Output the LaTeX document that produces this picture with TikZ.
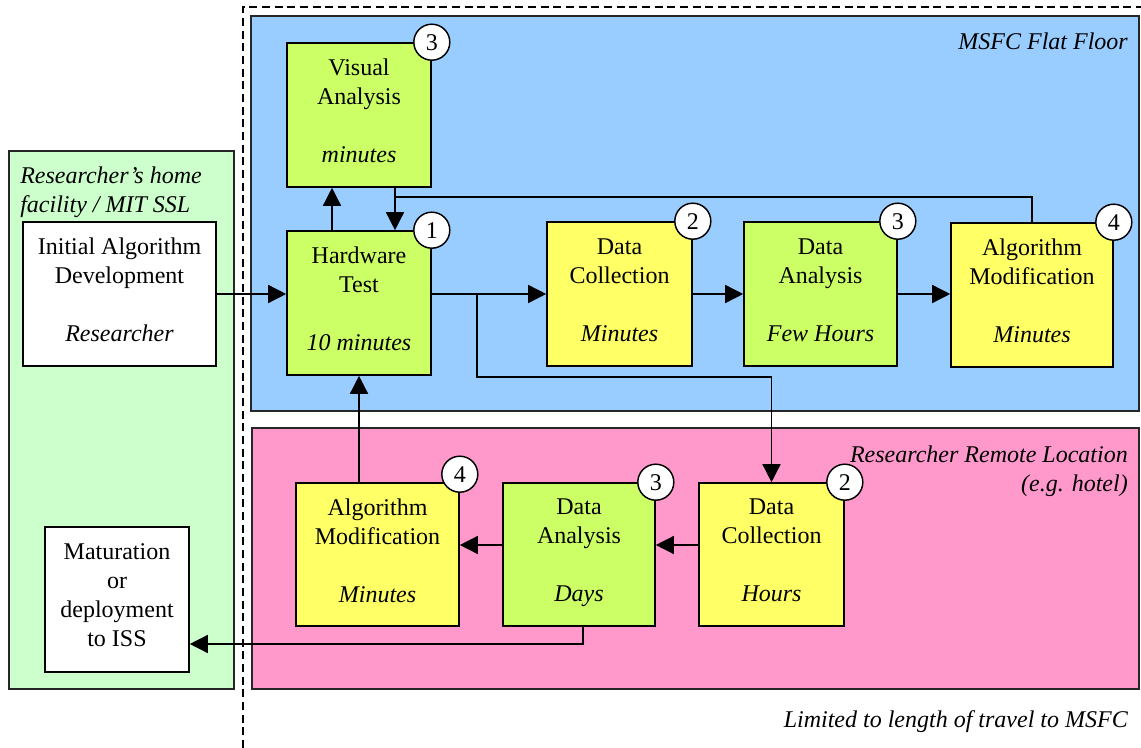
\documentclass[tikz,border=0pt]{standalone}
\usepackage{fontspec}
\setmainfont{Liberation Serif}
\usepackage{tikz}
\usetikzlibrary{arrows.meta,calc}
\definecolor{floorblue}{RGB}{153,204,255}
\definecolor{hotelpink}{RGB}{255,153,204}
\definecolor{homegreen}{RGB}{204,255,204}
\definecolor{stepgreen}{RGB}{204,255,102}
\definecolor{stepyellow}{RGB}{255,255,102}
\newcommand{\bodyfont}{\fontsize{18}{21.75}\selectfont}
\tikzset{
  region/.style={draw=black!85,line width=1.1pt},
  taskbox/.style={draw=black,line width=1.2pt,align=center,inner sep=0pt,text depth=6pt,minimum height=108pt,font=\bodyfont},
  greenbox/.style={taskbox,fill=stepgreen},
  yellowbox/.style={taskbox,fill=stepyellow},
  whitebox/.style={taskbox,fill=white},
  badge/.style={circle,draw=black,line width=1.1pt,fill=white,minimum size=27pt,inner sep=0pt,font=\bodyfont},
  zonelabel/.style={inner sep=0pt,font=\bodyfont\itshape},
  link/.style={line width=1.1pt,draw=black},
  flow/.style={link,-{Triangle[length=13.5pt,width=13.5pt]}},
  limit/.style={line width=1.2pt,dash pattern=on 6pt off 3.5pt},
}

\begin{document}
\begin{tikzpicture}[x=0.75pt,y=-0.75pt]
  \useasboundingbox (0,0) rectangle (1141,748);
  % zones
  \fill[homegreen] (9,151) rectangle (234,689);
  \draw[region] (9,151) rectangle (234,689);
  \fill[floorblue] (251,16) rectangle (1139,411);
  \draw[region] (251,16) rectangle (1139,411);
  \fill[hotelpink] (252,428) rectangle (1139,689);
  \draw[region] (252,428) rectangle (1139,689);
  \draw[limit] (243,748) -- (243,7) -- (1141,7);
  \node[zonelabel,anchor=base west,align=left] (homelbl) at (20,213)
    {Researcher’s home\\facility / MIT SSL};
  \node[zonelabel,anchor=base east] (floorlbl) at (1128,50) {MSFC Flat Floor};
  \node[zonelabel,anchor=base east,align=right] (hotellbl) at (1128,491)
    {Researcher Remote Location\\(e.g. hotel)};
  \node[zonelabel,anchor=base east] (travellbl) at (1128,727)
    {Limited to length of travel to MSFC};
  % home facility
  \node[whitebox,minimum width=144.75pt] (IAD) at (119.5,294)
    {Initial Algorithm\\Development\\[21.75pt]\textit{Researcher}};
  \node[whitebox,minimum width=108pt,minimum height=108.75pt] (Mat) at (117,599.5)
    {Maturation\\or\\deployment\\to ISS};
  % flat floor
  \node[greenbox,minimum width=108pt] (VA) at (359,115)
    {Visual\\Analysis\\[21.75pt]\textit{minutes}};
  \node[greenbox,minimum width=108pt] (HT) at (359,303)
    {Hardware\\Test\\[21.75pt]\textit{10 minutes}};
  \node[yellowbox,minimum width=108.75pt] (DCt) at (619.5,294)
    {Data\\Collection\\[21.75pt]\textit{Minutes}};
  \node[greenbox,minimum width=114.75pt] (DAt) at (820.5,294)
    {Data\\Analysis\\[21.75pt]\textit{Few Hours}};
  \node[yellowbox,minimum width=121.5pt] (AMt) at (1032,295)
    {Algorithm\\Modification\\[21.75pt]\textit{Minutes}};
  % remote location
  \node[yellowbox,minimum width=122.25pt,minimum height=107.25pt] (AMb) at (377.5,554.5)
    {Algorithm\\Modification\\[21.75pt]\textit{Minutes}};
  \node[greenbox,minimum width=114pt,minimum height=107.25pt] (DAb) at (579,554.5)
    {Data\\Analysis\\[21.75pt]\textit{Days}};
  \node[yellowbox,minimum width=108.75pt,minimum height=107.25pt] (DCb) at (771.5,554.5)
    {Data\\Collection\\[21.75pt]\textit{Hours}};
  % step numbers
  \node[badge] (VAn) at (VA.north east) {3};
  \node[badge] (HTn) at (HT.north east) {1};
  \node[badge] (DCtn) at (DCt.north east) {2};
  \node[badge] (DAtn) at (DAt.north east) {3};
  \node[badge] (AMtn) at (AMt.north east) {4};
  \node[badge] (AMbn) at ($(AMb.north east)+(0,-8)$) {4};
  \node[badge] (DAbn) at (DAb.north east) {3};
  \node[badge] (DCbn) at (DCb.north east) {2};
  % flat floor loop
  \draw[flow] (IAD.east) -- (IAD.east -| HT.west);
  \draw[flow] (HT.east |- DCt.west) -- (DCt.west);
  \draw[flow] (DCt) -- (DAt);
  \draw[flow] (DAt.east) -- (DAt.east -| AMt.west);
  \draw[flow] ($(HT.north)+(-27,0)$) -- ($(VA.south)+(-27,0)$);
  \draw[flow] ($(VA.south)+(36,0)$) -- ($(HT.north)+(36,0)$);
  \draw[link] (AMt.north) |- ($(VA.south)+(36,9)$);
  % branch to remote location
  \coordinate (split) at ($(HT.east |- DCt.west)+(45,0)$);
  \draw[flow] (split) -- ++(0,83) -| (DCb.north);
  % remote loop
  \draw[flow] ($(DCb.west)+(0,-9.5)$) -- ($(DAb.east)+(0,-9.5)$);
  \draw[flow] ($(DAb.west)+(0,-9.5)$) -- ($(AMb.east)+(0,-9.5)$);
  \draw[flow] (AMb.north -| HT.south) -- (HT.south);
  \draw[flow] ($(DAb.south)+(4,0)$) |- ($(Mat.east)+(0,44.5)$);
\end{tikzpicture}
\end{document}
